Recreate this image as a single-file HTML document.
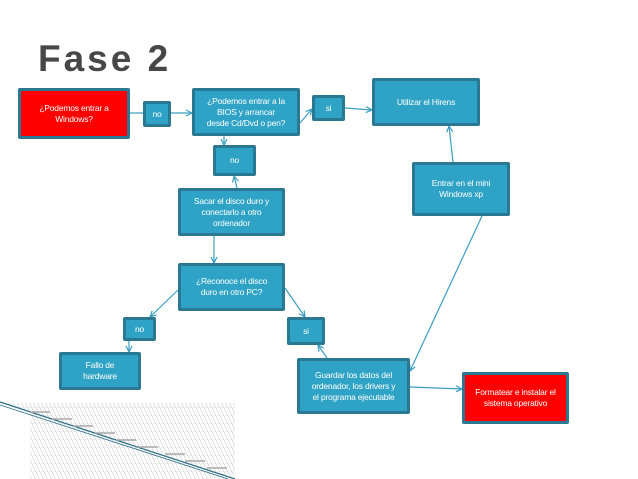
<!DOCTYPE html>
<html><head><meta charset="utf-8"><style>
body{margin:0;width:638px;height:479px;background:#fff;position:relative;overflow:hidden;font-family:"Liberation Sans",sans-serif}
.b{position:absolute;box-sizing:border-box;background:#2ea3c5;border:3px solid #2a7891;border-radius:2px;color:#fff;font-size:8.5px;line-height:11px;display:flex;align-items:center;justify-content:center;text-align:center;letter-spacing:-0.2px}
.r{background:#ff0000}
h1{position:absolute;left:38px;top:38px;margin:0;font-size:37px;font-weight:bold;color:#474747;letter-spacing:3px;font-family:"Liberation Sans",sans-serif}
svg{position:absolute;left:0;top:0}
</style></head><body>
<svg width="638" height="479">
<defs>
<pattern id="h" width="4" height="8" patternUnits="userSpaceOnUse">
<rect width="4" height="8" fill="#fff"/>
<line x1="0" y1="0" x2="4" y2="8" stroke="#c8c8c8" stroke-width="0.6"/>
<line x1="0" y1="7.5" x2="4" y2="7.5" stroke="#e0e0e0" stroke-width="0.5"/>
</pattern>
<marker id="a" markerWidth="8" markerHeight="8" refX="7" refY="4" orient="auto" markerUnits="userSpaceOnUse"><path d="M1,1 L7,4 L1,7" fill="none" stroke="#3a9ec0" stroke-width="1.2"/></marker>
</defs>
<rect x="30" y="403" width="205" height="76" fill="url(#h)"/>
<polygon points="0,403 30,403 30,413" fill="url(#h)"/>
<line x1="0" y1="402" x2="235" y2="479" stroke="#2a6f85" stroke-width="1.2"/>
<line x1="0" y1="405" x2="228" y2="479" stroke="#2a6f85" stroke-width="0.8"/>
<g stroke="#a8a8a8" stroke-width="1.5">
<line x1="30" y1="412" x2="50" y2="412"/><line x1="52" y1="419" x2="72" y2="419"/><line x1="73" y1="426" x2="93" y2="426"/><line x1="95" y1="433" x2="115" y2="433"/><line x1="116" y1="440" x2="136" y2="440"/><line x1="138" y1="447" x2="158" y2="447"/><line x1="165" y1="454" x2="185" y2="454"/><line x1="185" y1="461" x2="205" y2="461"/><line x1="207" y1="468" x2="227" y2="468"/>
</g>
<g stroke="#3a9ec0" stroke-width="1.2" fill="none">
<line x1="130" y1="113" x2="143" y2="113"/>
<line x1="171" y1="113" x2="192" y2="113" marker-end="url(#a)"/>
<line x1="224" y1="136" x2="224" y2="145" marker-end="url(#a)"/>
<line x1="300" y1="123" x2="312" y2="109" marker-end="url(#a)"/>
<line x1="345" y1="108" x2="372" y2="110" marker-end="url(#a)"/>
<line x1="237" y1="188" x2="234" y2="176" marker-end="url(#a)"/>
<line x1="214" y1="236" x2="214" y2="263" marker-end="url(#a)"/>
<line x1="178" y1="290" x2="150" y2="317" marker-end="url(#a)"/>
<line x1="285" y1="288" x2="305" y2="317" marker-end="url(#a)"/>
<line x1="129" y1="341" x2="129" y2="352" marker-end="url(#a)"/>
<line x1="327" y1="358" x2="318" y2="345" marker-end="url(#a)"/>
<line x1="453" y1="162" x2="449" y2="126" marker-end="url(#a)"/>
<line x1="482" y1="216" x2="410" y2="371" marker-end="url(#a)"/>
<line x1="410" y1="387" x2="462" y2="389" marker-end="url(#a)"/>
</g>
</svg>
<h1>Fase 2</h1>
<div class="b r" style="left:18px;top:88px;width:112px;height:51px">¿Podemos entrar a<br>Windows?</div>
<div class="b" style="left:143px;top:101px;width:28px;height:26px">no</div>
<div class="b" style="left:192px;top:88px;width:108px;height:48px">¿Podemos entrar a la<br>BIOS y arrancar<br>desde Cd/Dvd o pen?</div>
<div class="b" style="left:312px;top:95px;width:33px;height:26px">si</div>
<div class="b" style="left:372px;top:78px;width:108px;height:48px">Utilizar el Hirens</div>
<div class="b" style="left:213px;top:145px;width:43px;height:31px">no</div>
<div class="b" style="left:178px;top:188px;width:107px;height:48px">Sacar el disco duro y<br>conectarlo a otro<br>ordenador</div>
<div class="b" style="left:412px;top:162px;width:98px;height:54px">Entrar en el mini<br>Windows xp</div>
<div class="b" style="left:178px;top:263px;width:107px;height:48px">¿Reconoce el disco<br>duro en otro PC?</div>
<div class="b" style="left:123px;top:317px;width:33px;height:24px">no</div>
<div class="b" style="left:287px;top:317px;width:38px;height:28px">si</div>
<div class="b" style="left:59px;top:352px;width:82px;height:38px">Fallo de<br>hardware</div>
<div class="b" style="left:297px;top:358px;width:113px;height:56px">Guardar los datos del<br>ordenador, los drivers y<br>el programa ejecutable</div>
<div class="b r" style="left:462px;top:372px;width:107px;height:52px">Formatear e instalar el<br>sistema operativo</div>
</body></html>
